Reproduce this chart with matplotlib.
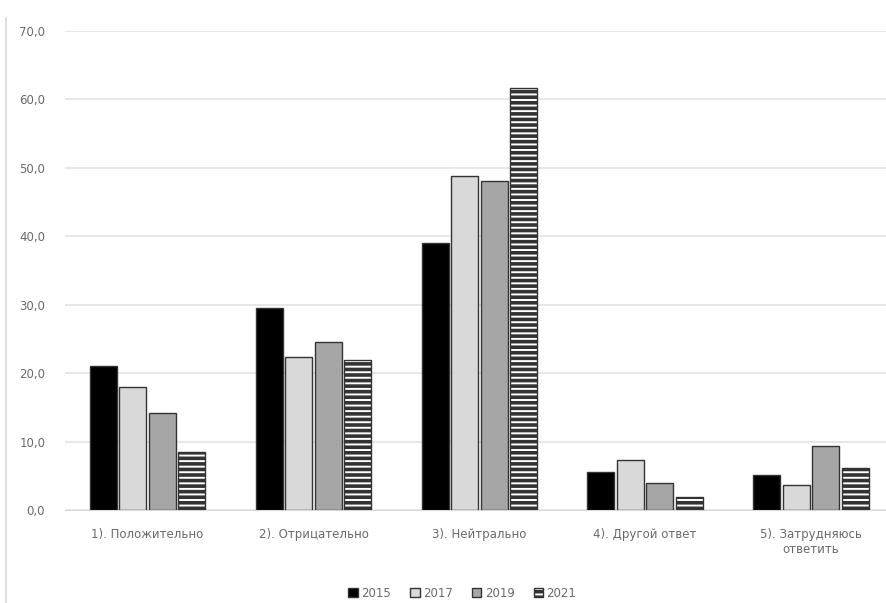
import matplotlib
matplotlib.use("Agg")
import matplotlib.pyplot as plt
import numpy as np
from matplotlib.lines import Line2D

categories = ["1). Положительно", "2). Отрицательно", "3). Нейтрально",
              "4). Другой ответ", "5). Затрудняюсь\nответить"]
years = ["2015", "2017", "2019", "2021"]
v2015 = [21.1, 29.5, 39.0, 5.6, 5.1]
v2017 = [18.0, 22.4, 48.8, 7.3, 3.7]
v2019 = [14.2, 24.6, 48.0, 3.9, 9.4]
v2021 = [8.5, 21.9, 61.7, 1.9, 6.1]
series = [v2015, v2017, v2019, v2021]
yticks = [0, 10, 20, 30, 40, 50, 60, 70]

fills = ["#000000", "#d9d9d9", "#a6a6a6", "#ffffff"]
hatches = [None, None, None, "---"]

plt.rcParams['font.family'] = ['DejaVu Sans']
plt.rcParams['hatch.linewidth'] = 2.6
plt.rcParams['hatch.color'] = '#111111'

fig = plt.figure(figsize=(8.86, 6.03), dpi=100)
ax = fig.add_axes([0.073, 0.154, 0.936, 0.795])

x = np.arange(len(categories))
w = 0.163
step = 0.178
for i, (vals, fc, h) in enumerate(zip(series, fills, hatches)):
    ax.bar(x + (i - 1.5) * step, vals, width=w, color=fc, edgecolor="#333333",
           linewidth=1.0, hatch=h, label=years[i], zorder=3)

ax.set_xlim(-0.5, len(categories) - 0.5)
ax.set_ylim(0, 70)
ax.set_yticks(yticks)
ax.set_yticklabels([f"{t:.1f}".replace(".", ",") for t in yticks])
ax.set_xticks(x)
ax.set_xticklabels(categories)
ax.yaxis.grid(True, color="#e3e3e3", linewidth=1.2, zorder=0)
ax.set_axisbelow(True)
for s in ["top", "right", "left"]:
    ax.spines[s].set_visible(False)
ax.spines["bottom"].set_color("#d9d9d9")
ax.tick_params(axis="both", length=0, colors="#6a6a6a", labelsize=8.5)
ax.tick_params(axis="x", pad=13)
ax.tick_params(axis="y", pad=14)

leg = fig.legend(loc="lower center", bbox_to_anchor=(0.522, -0.012), ncol=4,
                 frameon=False, fontsize=8.5, handlelength=0.8, handleheight=0.8,
                 columnspacing=1.6, handletextpad=0.3)
for t in leg.get_texts():
    t.set_color("#6a6a6a")

fig.add_artist(Line2D([0.007, 0.007], [0.0, 0.97], color="#d9d9d9", linewidth=1.2,
                      transform=fig.transFigure))

fig.savefig("out.png", dpi=100)
